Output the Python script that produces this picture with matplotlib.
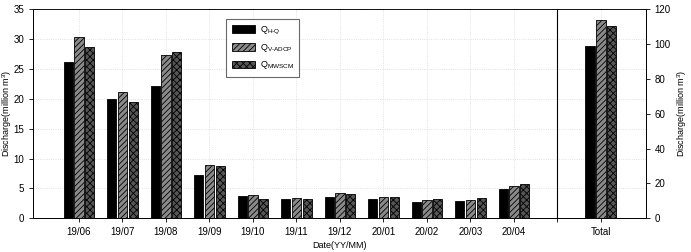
import matplotlib.pyplot as plt
import numpy as np

months = ['19/06', '19/07', '19/08', '19/09', '19/10', '19/11',
          '19/12', '20/01', '20/02', '20/03', '20/04']
q_hq = [26.1, 19.9, 22.2, 7.3, 3.7, 3.2, 3.6, 3.2, 2.7, 2.9, 4.85]
q_vadcp = [30.3, 21.2, 27.4, 9.0, 3.85, 3.35, 4.2, 3.6, 3.1, 3.05, 5.4]
q_mwscm = [28.7, 19.5, 27.9, 8.7, 3.2, 3.3, 4.1, 3.55, 3.2, 3.4, 5.7]
total = [99.1, 113.7, 110.6]  # H-Q, V-ADCP, MWSCM

plt.rcParams['font.family'] = ['Liberation Sans', 'DejaVu Sans']
plt.rcParams['hatch.linewidth'] = 0.6
plt.rcParams['mathtext.default'] = 'regular'

fig = plt.figure(figsize=(6.91, 2.52), dpi=100)
ax = fig.add_axes([0.0482, 0.134, 0.8863, 0.829])
ax2 = ax.twinx()

x = np.arange(len(months))
w = 0.21
off = 0.25
styles = [
    dict(color='black', edgecolor='black', label='Q$_{H\u2010Q}$'),
    dict(color='#8a8a8a', edgecolor='black', hatch='//////', label='Q$_{V\u2010ADCP}$'),
    dict(color='#555555', edgecolor='black', hatch='xxxxx', label='Q$_{MWSCM}$'),
]
for i, (vals, st) in enumerate(zip([q_hq, q_vadcp, q_mwscm], styles)):
    ax.bar(x + (i - 1) * off, vals, w, linewidth=0.6, zorder=3, **st)
    st2 = dict(st)
    st2.pop('label')
    ax2.bar(12 + (i - 1) * off, total[i], w, linewidth=0.6, zorder=3, **st2)

ax.axvline(11, color='black', lw=0.8, zorder=4)

ax.set_xlim(-1.05, 13.03)
ax.set_ylim(0, 35)
ax2.set_ylim(0, 120)
ax.set_yticks(np.arange(0, 36, 5))
ax2.set_yticks(np.arange(0, 121, 20))
ax.set_xticks(list(x) + [12])
ax.set_xticklabels(months + ['Total'])
ax.set_xticks([11], minor=True)

for a in (ax, ax2):
    a.tick_params(labelsize=7, length=3, width=0.6)
    a.tick_params(which='minor', length=3, width=0.6)
    for s in a.spines.values():
        s.set_linewidth(0.6)
ax.spines['top'].set_color('#777777')

ax.grid(True, color='#d8d8d8', linestyle=':', linewidth=0.6, zorder=0)
ax.set_axisbelow(True)

ax.set_ylabel('Discharge(million m$^3$)', fontsize=6.5, labelpad=0)
ax2.set_ylabel('Discharge(million m$^3$)', fontsize=6.5, labelpad=3)
ax.set_xlabel('Date(YY/MM)', fontsize=6.5, labelpad=3)

leg = ax.legend(loc='upper left', bbox_to_anchor=(0.308, 0.975), fontsize=6.5,
                frameon=True, fancybox=False, edgecolor='#444444',
                handlelength=2.6, handleheight=0.9, labelspacing=0.6,
                borderpad=0.6, handletextpad=0.5)
leg.get_frame().set_linewidth(0.8)

fig.savefig('out.png', dpi=100)
